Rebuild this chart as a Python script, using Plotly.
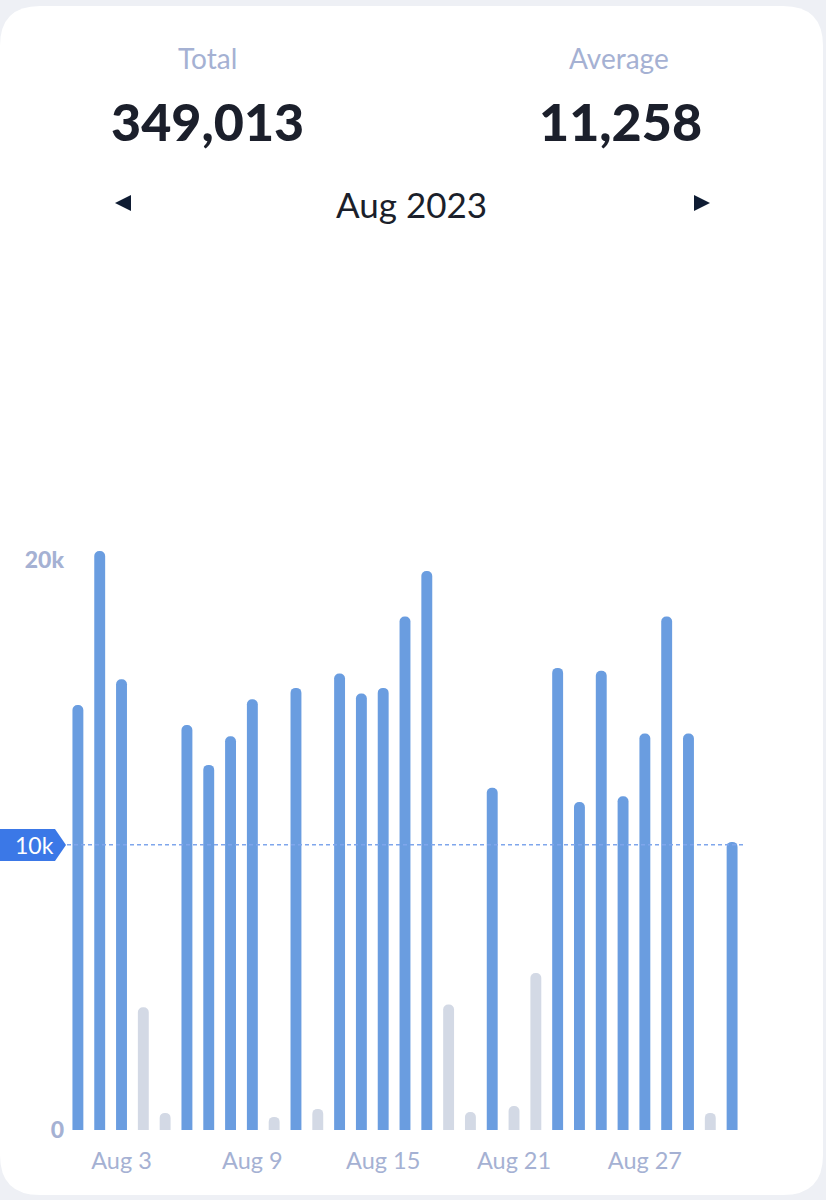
import plotly.graph_objects as go

# Daily values for Aug 2023
days = list(range(1, 32))
values = [14900, 20300, 15800, 4300, 600, 14200, 12800, 13800, 15100, 460,
          15500, 740, 16000, 15300, 15500, 18000, 19600, 4400, 630, 12000,
          840, 5500, 16200, 11500, 16100, 11700, 13900, 18000, 13900, 600, 10100]
goal = 10000

tick_days = [3, 9, 15, 21, 27]
tick_labels = ["Aug 3", "Aug 9", "Aug 15", "Aug 21", "Aug 27"]
y_ticks = [0, 20000]
y_tick_labels = ["0", "20k"]

total_text = "349,013"
average_text = "11,258"
month_text = "Aug 2023"

BLUE = "#6a9de0"
GREY = "#d3d9e5"
LABEL = "#a5b1d3"
DARK = "#1b1f2b"

# plot area in pixels (used for placing the header / card decorations)
W, H = 826, 1200
L, R, T, B = 67, 83, 531, 70
PW = W - L - R
PH = H - T - B


def px(x):
    return (x - L) / PW


def py(y):
    return (H - B - y) / PH


colors = [BLUE if v >= goal else GREY for v in values]

fig = go.Figure()
fig.add_trace(go.Bar(
    x=days, y=values, width=0.5,
    marker=dict(color=colors, cornerradius="50%", line=dict(width=0)),
    hoverinfo="x+y", showlegend=False,
))

# white card
x0, x1, y0, y1, r = 0, 823, 6, 1195, 40
card = (f"M {px(x0 + r)},{py(y0)} L {px(x1 - r)},{py(y0)} Q {px(x1)},{py(y0)} {px(x1)},{py(y0 + r)} "
        f"L {px(x1)},{py(y1 - r)} Q {px(x1)},{py(y1)} {px(x1 - r)},{py(y1)} "
        f"L {px(x0 + r)},{py(y1)} Q {px(x0)},{py(y1)} {px(x0)},{py(y1 - r)} "
        f"L {px(x0)},{py(y0 + r)} Q {px(x0)},{py(y0)} {px(x0 + r)},{py(y0)} Z")
fig.add_shape(type="path", path=card, xref="paper", yref="paper",
              fillcolor="white", line=dict(width=0), layer="below")

# month arrows
left_tri = f"M {px(115)},{py(203)} L {px(131)},{py(195)} L {px(131)},{py(211)} Z"
right_tri = f"M {px(710)},{py(203)} L {px(694)},{py(195)} L {px(694)},{py(211)} Z"
for p in (left_tri, right_tri):
    fig.add_shape(type="path", path=p, xref="paper", yref="paper",
                  fillcolor="#0f1c33", line=dict(width=0))

# goal line and badge
fig.add_shape(type="line", xref="paper", x0=0, x1=1, yref="y", y0=goal, y1=goal,
              line=dict(color="#7fa6ec", width=1.5, dash="4px,3px"), layer="above")
badge = (f"M {px(0)},{py(829)} L {px(55)},{py(829)} L {px(66)},{py(845)} "
         f"L {px(55)},{py(861)} L {px(0)},{py(861)} Z")
fig.add_shape(type="path", path=badge, xref="paper", yref="paper",
              fillcolor="#3b78e7", line=dict(width=0), layer="above")
fig.add_annotation(x=px(34), y=py(845), xref="paper", yref="paper", text="10k", showarrow=False,
                   xanchor="center", yanchor="middle",
                   font=dict(family="Lato", size=23, color="white"))


# header
def header(text, x, y, size, color, weight="normal"):
    fig.add_annotation(x=px(x), y=py(y), xref="paper", yref="paper", text=text,
                       showarrow=False, xanchor="center", yanchor="middle",
                       font=dict(family="Lato", size=size, color=color, weight=weight))


header("Total", 207, 58, 28, LABEL)
header("Average", 619, 58, 28, LABEL)
header(total_text, 207, 121, 52, DARK, weight=900)
header(average_text, 620, 121, 52, DARK, weight=900)
header(month_text, 411, 204, 35, DARK)

fig.update_layout(
    width=W, height=H,
    margin=dict(l=L, r=R, t=T, b=B),
    paper_bgcolor="#eef0f5",
    plot_bgcolor="rgba(0,0,0,0)",
    xaxis=dict(range=[0.5, 31.5], tickvals=tick_days, ticktext=tick_labels,
               showgrid=False, zeroline=False, showline=False, ticks="",
               ticklabelstandoff=14,
               tickfont=dict(family="Lato", size=23.5, color=LABEL)),
    yaxis=dict(range=[0, 21000], tickvals=y_ticks, ticktext=y_tick_labels,
               showgrid=False, zeroline=False, showline=False, ticks="",
               ticklabelstandoff=2,
               tickfont=dict(family="Lato", size=23, color=LABEL, weight=900)),
)

fig.write_html("out.html", config={"displayModeBar": False},
               post_script="document.body.style.margin='0';"
                           "document.body.style.background='#eef0f5';")
